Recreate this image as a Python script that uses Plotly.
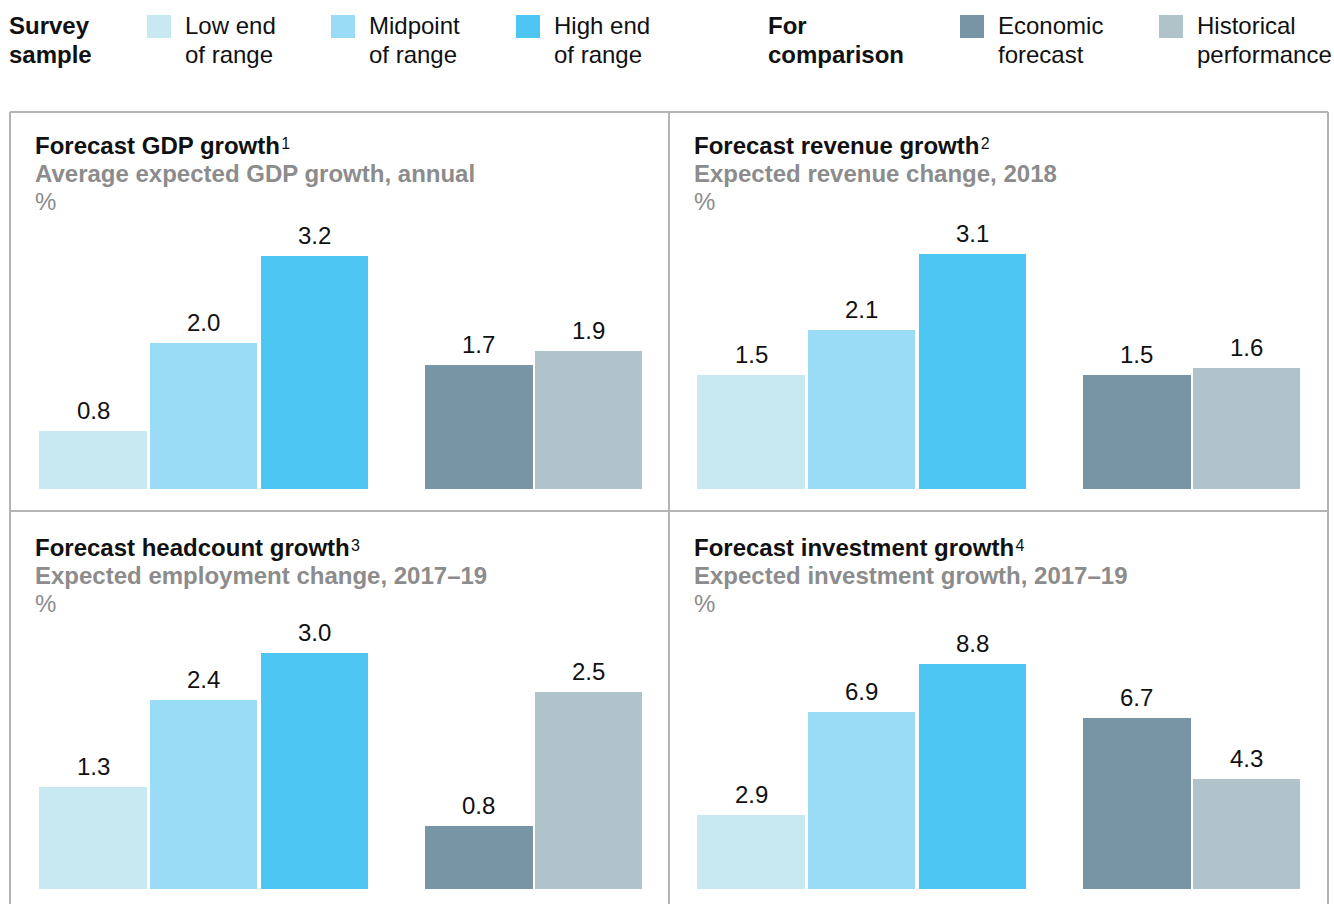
import plotly.graph_objects as go

# ---- data -------------------------------------------------------------
series_names = ["Low end of range", "Midpoint of range", "High end of range",
                "Economic forecast", "Historical performance"]
gdp_growth = [0.8, 2.0, 3.2, 1.7, 1.9]
revenue_growth = [1.5, 2.1, 3.1, 1.5, 1.6]
headcount_growth = [1.3, 2.4, 3.0, 0.8, 2.5]
investment_growth = [2.9, 6.9, 8.8, 6.7, 4.3]

panel_titles = ["Forecast GDP growth", "Forecast revenue growth",
                "Forecast headcount growth", "Forecast investment growth"]
panel_notes = ["1", "2", "3", "4"]
panel_subtitles = ["Average expected GDP growth, annual",
                   "Expected revenue change, 2018",
                   "Expected employment change, 2017\u201319",
                   "Expected investment growth, 2017\u201319"]

# ---- styling ----------------------------------------------------------
W, H = 1334, 904
FONT = "Liberation Sans, Arial, sans-serif"
bar_colors = ["#C9E9F2", "#9ADBF5", "#4EC6F3", "#7895A6", "#B0C3CA"]
GRID = "#B4B4B4"
GRAY = "#8C8C8C"

slots = [0, 1, 2, 3.49, 4.48]      # bar slots: survey group, then comparison group
unit_px = 110.6                    # pixels per slot
bar_w = 0.97


def py(px):
    return 1 - px / H


def px_x(px):
    return px / W


panels = [
    dict(values=gdp_growth, x0=20, first=93, top=253, base=489, ymax=3.24),
    dict(values=revenue_growth, x0=678, first=751, top=253, base=489, ymax=3.113),
    dict(values=headcount_growth, x0=20, first=93, top=653, base=889, ymax=3.0),
    dict(values=investment_growth, x0=678, first=751, top=653, base=889, ymax=9.225),
]

fig = go.Figure()
layout_axes = {}
annotations = []
for i, p in enumerate(panels):
    n = "" if i == 0 else str(i + 1)
    x1 = p["x0"] + 640
    r0 = (p["x0"] - p["first"]) / unit_px
    r1 = (x1 - p["first"]) / unit_px
    fig.add_trace(go.Bar(
        x=slots, y=p["values"], width=bar_w,
        marker=dict(color=bar_colors, line=dict(width=0)),
        hovertext=series_names, hoverinfo="text+y",
        xaxis="x" + n, yaxis="y" + n, showlegend=False,
    ))
    # value labels sitting just above each bar
    for xs, v in zip(slots, p["values"]):
        annotations.append(dict(
            x=xs, y=v, xref="x" + n, yref="y" + n,
            xanchor="center", yanchor="bottom", yshift=6,
            text=f"{v:.1f}", showarrow=False, borderpad=0,
            font=dict(family=FONT, size=24, color="#111111"),
        ))
    layout_axes["xaxis" + n] = dict(domain=[px_x(p["x0"]), px_x(x1)], range=[r0, r1],
                                    visible=False, fixedrange=True, anchor="y" + n)
    layout_axes["yaxis" + n] = dict(domain=[py(p["base"]), py(p["top"])], range=[0, p["ymax"]],
                                    visible=False, fixedrange=True, anchor="x" + n)


def text(x, baseline, s, size=24, color="#111111"):
    annotations.append(dict(
        x=px_x(x - 2), y=py(baseline + 6), xref="paper", yref="paper",
        xanchor="left", yanchor="bottom", text=s, showarrow=False,
        font=dict(family=FONT, size=size, color=color), align="left",
        borderpad=0,
    ))


# ---- legend -----------------------------------------------------------
shapes = []
text(10, 34, "<b>Survey</b>")
text(10, 63, "<b>sample</b>")
text(769, 34, "<b>For</b>")
text(769, 63, "<b>comparison</b>")
legend_items = [
    (147, ["Low end", "of range"]),
    (331, ["Midpoint", "of range"]),
    (516, ["High end", "of range"]),
    (960, ["Economic", "forecast"]),
    (1159, ["Historical", "performance"]),
]
for (sx, lines), col in zip(legend_items, bar_colors):
    shapes.append(dict(type="rect", xref="paper", yref="paper",
                       x0=px_x(sx), x1=px_x(sx + 24), y0=py(38), y1=py(15),
                       fillcolor=col, line=dict(width=0)))
    text(sx + 39, 34, lines[0])
    text(sx + 39, 63, lines[1])

# ---- panel headings ---------------------------------------------------
heading_pos = [(36, 154), (695, 154), (36, 556), (695, 556)]
for (hx, hb), t, note, sub in zip(heading_pos, panel_titles, panel_notes, panel_subtitles):
    text(hx, hb, f"<b>{t}</b><span style=\"font-size:16px;baseline-shift:5px\"> {note}</span>"
         .replace("> ", ">\u200a"))
    text(hx, hb + 28, f"<b>{sub}</b>", color=GRAY)
    text(hx, hb + 56, "%", color=GRAY)

# ---- panel frame ------------------------------------------------------
def line(xa, ya, xb, yb):
    shapes.append(dict(type="line", xref="paper", yref="paper",
                       x0=px_x(xa), y0=py(ya), x1=px_x(xb), y1=py(yb),
                       line=dict(color=GRID, width=2)))


line(10, 112, 1328, 112)
line(10, 511, 1328, 511)
line(10, 112, 10, 904)
line(669, 112, 669, 904)
line(1328, 112, 1328, 904)

fig.update_layout(
    width=W, height=H,
    margin=dict(l=0, r=0, t=0, b=0),
    paper_bgcolor="white", plot_bgcolor="rgba(0,0,0,0)",
    showlegend=False, bargap=0,
    shapes=shapes, annotations=annotations,
    font=dict(family=FONT),
    **layout_axes,
)

fig.write_html("out.html", config={"displayModeBar": False})
